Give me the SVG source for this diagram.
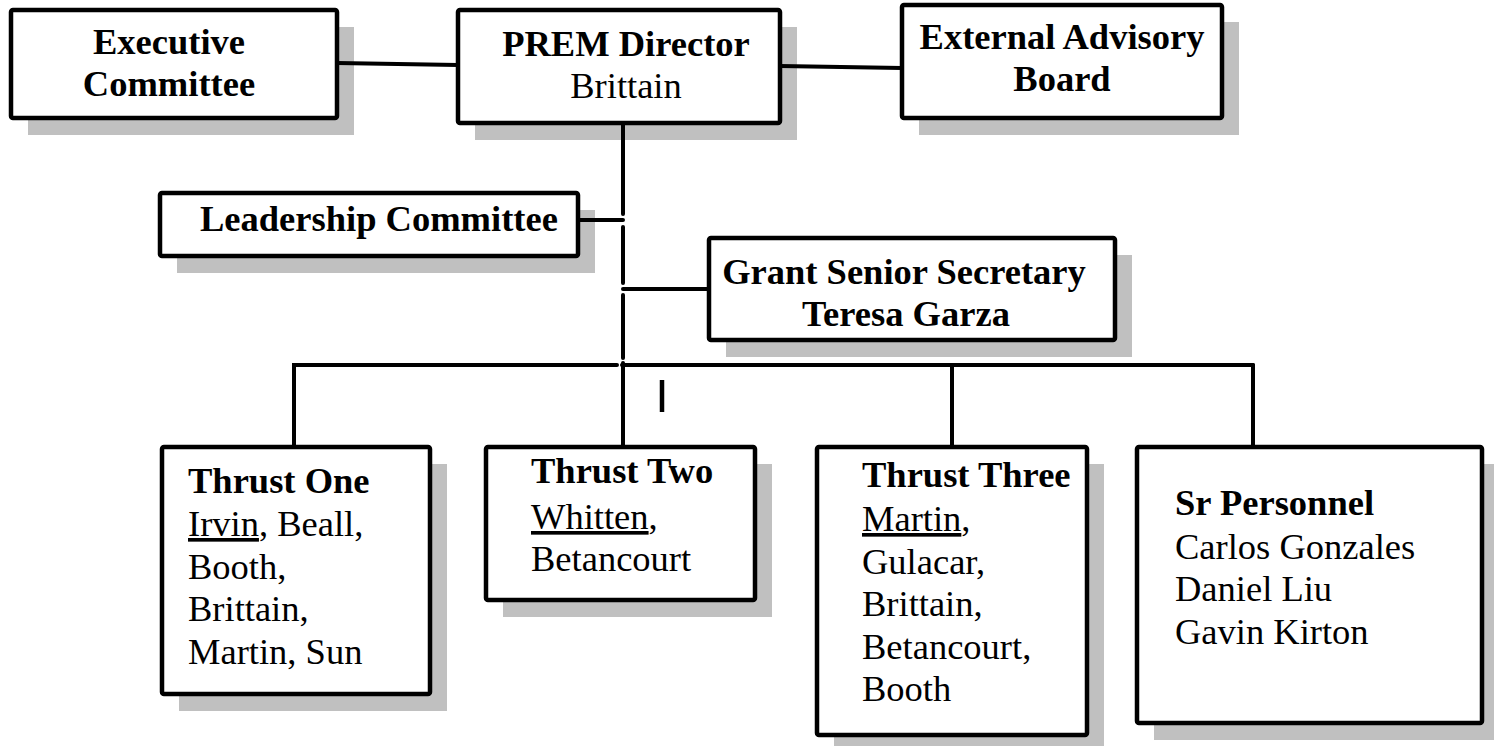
<svg xmlns="http://www.w3.org/2000/svg" width="1494" height="746" viewBox="0 0 1494 746">
<style>
.box{fill:#fff;stroke:#000;stroke-width:4.5;stroke-linejoin:round}
.sh{fill:#c0c0c0}
.ln{stroke:#000;stroke-width:4;fill:none;stroke-linecap:round}
text{font-family:"Liberation Serif","Times New Roman",serif;font-size:36.5px;fill:#000}
.b{font-weight:bold}
.c{text-anchor:middle}
.u{text-decoration:underline}
</style>
<rect width="1494" height="746" fill="#fff"/>
<g id="exec">
<rect class="sh" x="28" y="27" width="326" height="108"/>
<rect class="box" x="11" y="10" width="326" height="108" rx="2"/>
<text class="b c" x="169" y="54">Executive</text>
<text class="b c" x="169" y="96">Committee</text>
</g>
<g id="prem">
<rect class="sh" x="475" y="27" width="322" height="113"/>
<rect class="box" x="458" y="10" width="322" height="113" rx="2"/>
<text class="b c" x="626" y="56">PREM Director</text>
<text class="c" x="626" y="98">Brittain</text>
</g>
<g id="external">
<rect class="sh" x="919" y="22" width="320" height="113"/>
<rect class="box" x="902" y="5" width="320" height="113" rx="2"/>
<text class="b c" x="1062" y="49">External Advisory</text>
<text class="b c" x="1062" y="91">Board</text>
</g>
<g id="leadership">
<rect class="sh" x="177" y="210" width="418" height="63"/>
<rect class="box" x="160" y="193" width="418" height="63" rx="2"/>
<text class="b" x="200" y="231">Leadership Committee</text>
</g>
<g id="grant">
<rect class="sh" x="726" y="255" width="406" height="102"/>
<rect class="box" x="709" y="238" width="406" height="102" rx="2"/>
<text class="b c" x="904" y="284">Grant Senior Secretary</text>
<text class="b c" x="906" y="326">Teresa Garza</text>
</g>
<g id="thrust1">
<rect class="sh" x="179" y="464" width="268" height="247"/>
<rect class="box" x="162" y="447" width="268" height="247" rx="2"/>
<text class="b" x="188" y="493">Thrust One</text>
<text x="188" y="536"><tspan class="u">Irvin</tspan>, Beall,</text>
<text x="188" y="579">Booth,</text>
<text x="188" y="621">Brittain,</text>
<text x="188" y="664">Martin, Sun</text>
</g>
<g id="thrust2">
<rect class="sh" x="503" y="464" width="269" height="153"/>
<rect class="box" x="486" y="447" width="269" height="153" rx="2"/>
<text class="b" x="531" y="483">Thrust Two</text>
<text x="531" y="529"><tspan class="u">Whitten</tspan>,</text>
<text x="531" y="571">Betancourt</text>
</g>
<g id="thrust3">
<rect class="sh" x="834" y="464" width="270" height="288"/>
<rect class="box" x="817" y="447" width="270" height="288" rx="2"/>
<text class="b" x="862" y="487">Thrust Three</text>
<text x="862" y="531"><tspan class="u">Martin</tspan>,</text>
<text x="862" y="574">Gulacar,</text>
<text x="862" y="616">Brittain,</text>
<text x="862" y="659">Betancourt,</text>
<text x="862" y="701">Booth</text>
</g>
<g id="srpersonnel">
<rect class="sh" x="1154" y="464" width="345" height="276"/>
<rect class="box" x="1137" y="447" width="345" height="276" rx="2"/>
<text class="b" x="1175" y="515">Sr Personnel</text>
<text x="1175" y="559">Carlos Gonzales</text>
<text x="1175" y="601">Daniel Liu</text>
<text x="1175" y="644">Gavin Kirton</text>
</g>
<g id="connectors">
<line class="ln" x1="337" y1="63" x2="458" y2="65"/>
<line class="ln" x1="780" y1="66" x2="902" y2="68"/>
<line class="ln" x1="623" y1="125" x2="623" y2="214"/>
<line class="ln" x1="623" y1="227" x2="623" y2="283"/>
<line class="ln" x1="623" y1="295" x2="623" y2="358"/>
<line class="ln" x1="580" y1="220" x2="623" y2="220"/>
<line class="ln" x1="623" y1="289" x2="707" y2="289"/>
<polyline class="ln" points="294,445 294,365 617,365"/>
<line class="ln" x1="622" y1="365" x2="1253" y2="365"/>
<line class="ln" x1="623" y1="363" x2="623" y2="445"/>
<line class="ln" x1="952" y1="365" x2="952" y2="445"/>
<line class="ln" x1="1253" y1="365" x2="1253" y2="445"/>
<line x1="662" y1="380" x2="662" y2="412" stroke="#000" stroke-width="4.5"/>
</g>
</svg>
